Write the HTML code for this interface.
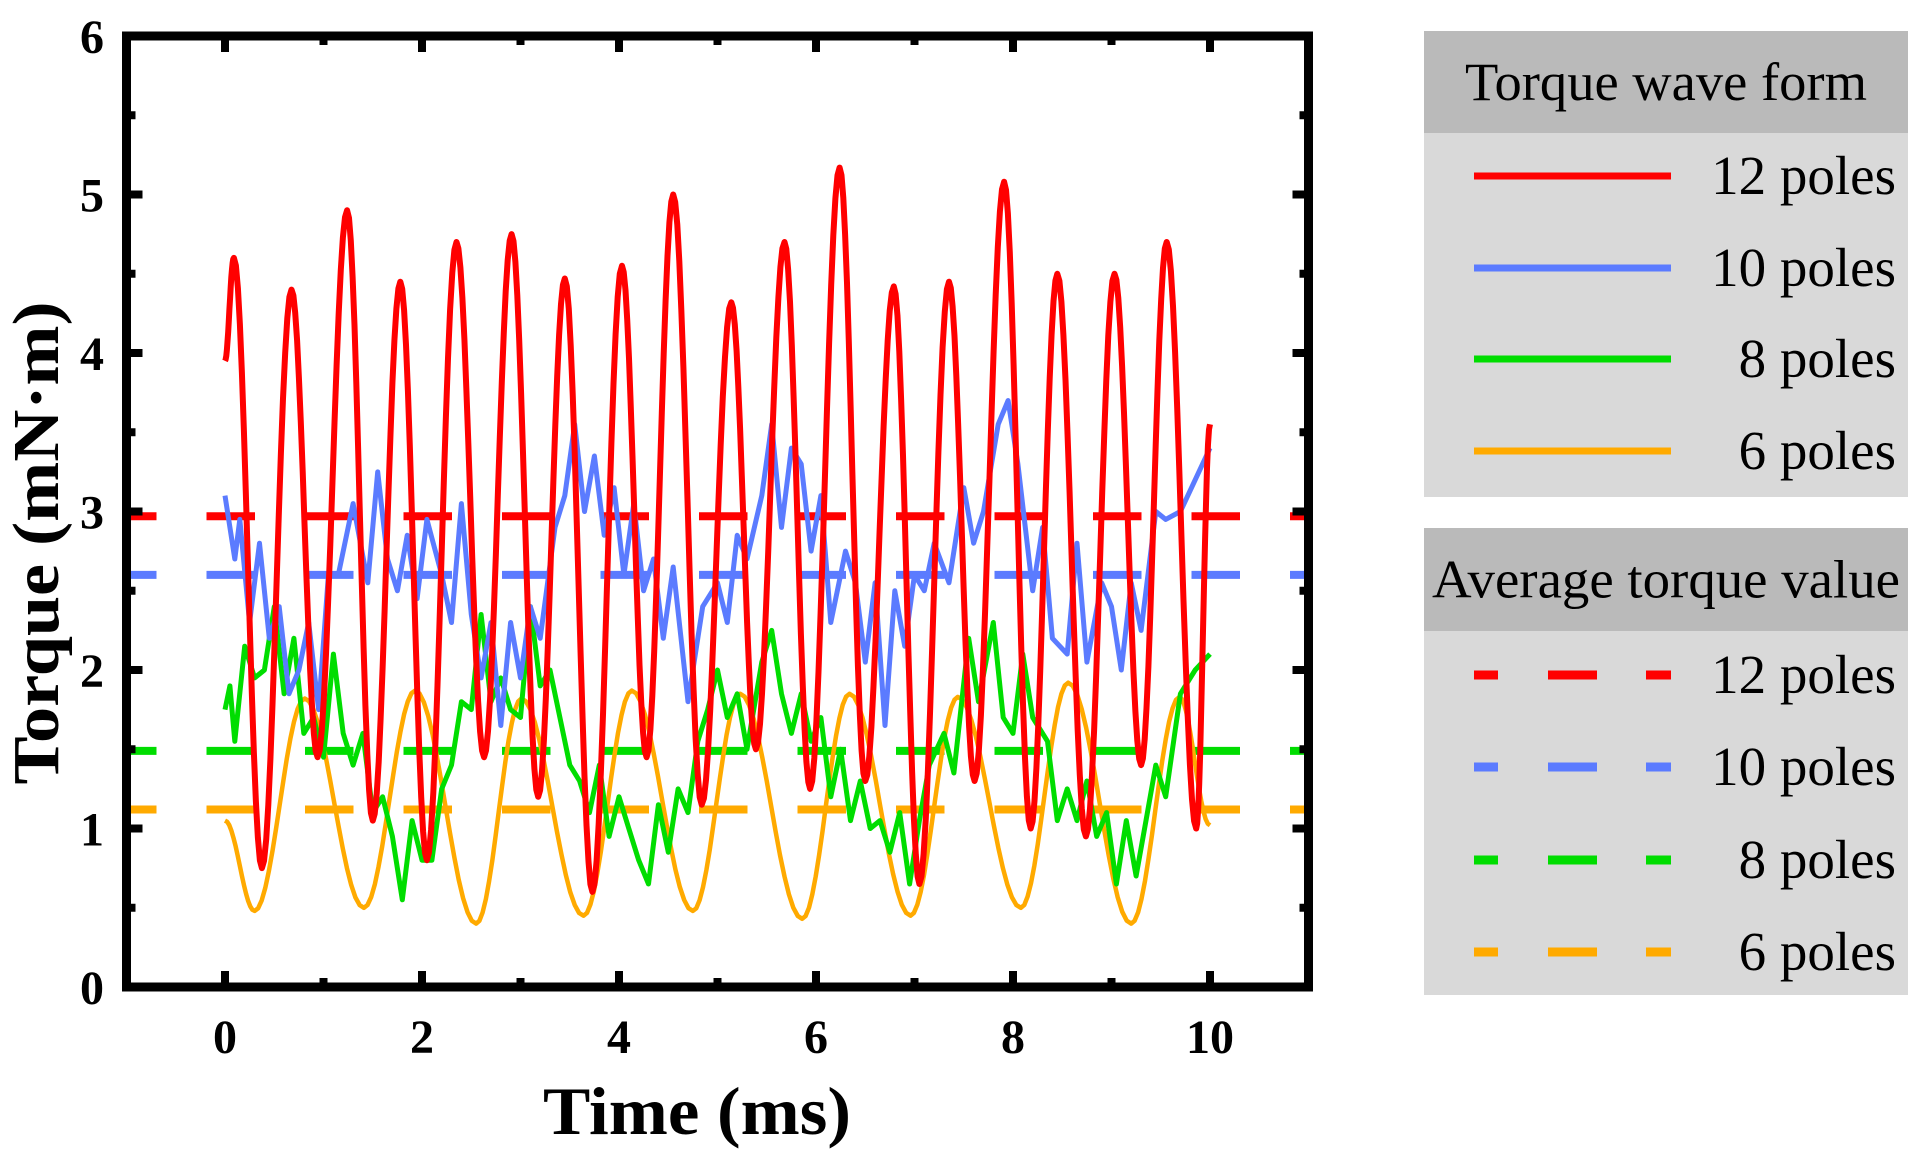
<!DOCTYPE html>
<html><head><meta charset="utf-8">
<style>
html,body{margin:0;padding:0;background:#fff;}
svg{display:block;}
text{font-family:"Liberation Serif","Times New Roman",serif;}
</style></head>
<body>
<svg id="chart" width="1924" height="1150" viewBox="0 0 1924 1150" xmlns="http://www.w3.org/2000/svg">
  <g id="plot"></g>
  <g id="axes"></g>
  <g id="legend"></g>
</svg>
<script>
// ---- data ----
const xTicks = [0, 2, 4, 6, 8, 10];
const yTicks = [0, 1, 2, 3, 4, 5, 6];
const seriesNames = ["12 poles", "10 poles", "8 poles", "6 poles"];
const seriesColors = ["#ff0000", "#5b7bff", "#00dd00", "#ffaa00"];
const averages = [2.97, 2.6, 1.49, 1.12];

const red12T = [0,0.09,0.375,0.675,0.94,1.24,1.5,1.78,2.05,2.35,2.63,2.91,3.18,3.45,3.73,4.03,4.28,4.55,4.84,5.14,5.39,5.68,5.94,6.24,6.5,6.79,7.05,7.35,7.61,7.91,8.18,8.45,8.74,9.03,9.3,9.56,9.86,10];
const red12V = [3.95,4.6,0.75,4.4,1.45,4.9,1.05,4.45,0.8,4.7,1.45,4.75,1.2,4.47,0.6,4.55,1.45,5.0,1.15,4.32,1.5,4.7,1.25,5.17,1.3,4.42,0.65,4.45,1.3,5.08,1.0,4.5,0.95,4.5,1.4,4.7,1.0,3.55];

const blue10T = [0,0.1,0.15,0.25,0.35,0.45,0.55,0.65,0.75,0.85,0.95,1.05,1.15,1.3,1.45,1.55,1.65,1.75,1.85,1.95,2.05,2.2,2.3,2.4,2.5,2.6,2.7,2.8,2.9,3.0,3.1,3.2,3.35,3.45,3.55,3.65,3.75,3.85,3.95,4.05,4.15,4.25,4.35,4.45,4.55,4.7,4.85,5.0,5.1,5.2,5.3,5.45,5.55,5.65,5.75,5.85,5.95,6.05,6.15,6.3,6.4,6.5,6.6,6.7,6.8,6.9,7.0,7.1,7.2,7.35,7.5,7.6,7.7,7.85,7.95,8.05,8.2,8.3,8.4,8.55,8.65,8.75,8.9,9.0,9.1,9.2,9.3,9.45,9.55,9.7,9.85,10];
const blue10V = [3.1,2.7,2.95,2.3,2.8,2.2,2.4,1.85,2.0,2.3,1.75,2.6,2.6,3.05,2.55,3.25,2.7,2.5,2.85,2.45,2.95,2.6,2.3,3.05,2.35,1.95,2.3,1.65,2.3,1.95,2.4,2.2,2.9,3.1,3.55,3.0,3.35,2.85,3.15,2.6,3.05,2.5,2.7,2.2,2.65,1.8,2.4,2.55,2.3,2.85,2.7,3.1,3.55,2.9,3.4,3.3,2.75,3.1,2.3,2.75,2.55,2.05,2.55,1.65,2.5,2.15,2.6,2.5,2.8,2.55,3.15,2.8,3.0,3.55,3.7,3.3,2.5,2.9,2.2,2.1,2.8,2.05,2.55,2.4,2.0,2.55,2.25,3.0,2.95,3.0,3.2,3.4];

const green8T = [0,0.05,0.1,0.2,0.3,0.4,0.5,0.6,0.7,0.8,0.9,1.0,1.1,1.2,1.3,1.4,1.5,1.6,1.7,1.8,1.9,2.0,2.1,2.2,2.3,2.4,2.5,2.6,2.7,2.8,2.9,3.0,3.1,3.2,3.3,3.4,3.5,3.6,3.7,3.8,3.9,4.0,4.1,4.2,4.3,4.4,4.5,4.6,4.7,4.8,4.9,5.0,5.1,5.2,5.3,5.45,5.55,5.65,5.75,5.85,5.95,6.05,6.15,6.25,6.35,6.45,6.55,6.65,6.75,6.85,6.95,7.05,7.15,7.3,7.4,7.55,7.65,7.8,7.9,8.0,8.1,8.2,8.35,8.45,8.55,8.65,8.75,8.85,8.95,9.05,9.15,9.25,9.35,9.45,9.55,9.7,9.85,10];
const green8V = [1.75,1.9,1.55,2.15,1.95,2.0,2.4,1.85,2.2,1.6,1.7,1.45,2.1,1.6,1.4,1.6,1.1,1.2,0.95,0.55,1.05,0.8,0.8,1.25,1.4,1.8,1.75,2.35,1.8,1.95,1.75,1.7,2.4,1.9,2.0,1.7,1.4,1.3,1.1,1.4,0.95,1.2,1.0,0.8,0.65,1.15,0.85,1.25,1.1,1.55,1.75,2.0,1.7,1.85,1.5,2.05,2.25,1.85,1.6,1.85,1.55,1.7,1.2,1.5,1.05,1.3,1.0,1.05,0.85,1.1,0.65,1.05,1.4,1.6,1.35,2.2,1.8,2.3,1.7,1.6,2.1,1.7,1.55,1.05,1.25,1.05,1.3,0.95,1.1,0.65,1.05,0.7,1.05,1.4,1.2,1.85,2.0,2.1];

const orange6T = [0,0.3,0.81,1.41,1.93,2.55,3.01,3.64,4.13,4.75,5.23,5.86,6.34,6.96,7.44,8.08,8.56,9.2,9.69,10];
const orange6V = [1.05,0.48,1.82,0.5,1.87,0.4,1.82,0.45,1.87,0.48,1.85,0.43,1.85,0.45,1.83,0.5,1.92,0.4,1.83,1.02];

// ---- scales ----
const X0 = 225, XS = 98.5, Y0 = 987, YS = 158.5;
function xs(t){ return X0 + t*XS; }
function ys(v){ return Y0 - v*YS; }
const NS = "http://www.w3.org/2000/svg";
function mk(tag, attrs, parent){
  const e = document.createElementNS(NS, tag);
  for (const k in attrs) e.setAttribute(k, attrs[k]);
  parent.appendChild(e); return e;
}
const plot = document.getElementById('plot');
const axes = document.getElementById('axes');
const legend = document.getElementById('legend');

const L = xs(-1), R = xs(11), T = ys(6), B = ys(0);
mk('clipPath', {id:'clip'}, plot);
mk('rect', {x:L, y:T, width:R-L, height:B-T}, document.getElementById('clip'));

averages.forEach((a,i)=>{
  const ln = mk('line', {x1:L, x2:R, y1:ys(a), y2:ys(a), stroke:seriesColors[i], 'stroke-width':8,
    'stroke-dasharray':'48.5 50', 'stroke-dashoffset':'18.5', 'clip-path':'url(#clip)'}, plot);
  
  
});

function linePath(T_, V_){
  return T_.map((t,i)=>(i?'L':'M')+xs(t).toFixed(1)+' '+ys(V_[i]).toFixed(1)).join(' ');
}
function smoothPath(T_, V_){
  let d = 'M'+xs(T_[0]).toFixed(1)+' '+ys(V_[0]).toFixed(1);
  for (let i=0;i<T_.length-1;i++){
    for (let k=1;k<=14;k++){
      const s=k/14, w=(1-Math.cos(Math.PI*s))/2;
      const t=T_[i]+(T_[i+1]-T_[i])*s, v=V_[i]+(V_[i+1]-V_[i])*w;
      d+=' L'+xs(t).toFixed(1)+' '+ys(v).toFixed(1);
    }
  }
  return d;
}
const p6 = mk('path', {d:smoothPath(orange6T, orange6V), fill:'none', stroke:seriesColors[3], 'stroke-width':4.5, 'stroke-linejoin':'round'}, plot);


const p8 = mk('path', {d:linePath(green8T, green8V), fill:'none', stroke:seriesColors[2], 'stroke-width':5, 'stroke-linejoin':'round'}, plot);


const p10 = mk('path', {d:linePath(blue10T, blue10V), fill:'none', stroke:seriesColors[1], 'stroke-width':5, 'stroke-linejoin':'round'}, plot);


const p12 = mk('path', {d:smoothPath(red12T, red12V), fill:'none', stroke:seriesColors[0], 'stroke-width':6, 'stroke-linejoin':'round'}, plot);



const fr = mk('rect', {x:L, y:T, width:R-L, height:B-T, fill:'none', stroke:'#000', 'stroke-width':9}, axes);



for (let t=-1;t<=11;t++){
  const len = (t%2===0) ? 16 : 9;
  mk('line', {x1:xs(t), x2:xs(t), y1:B, y2:B-len, stroke:'#000', 'stroke-width':8}, axes);
  mk('line', {x1:xs(t), x2:xs(t), y1:T, y2:T+len, stroke:'#000', 'stroke-width':8}, axes);
}
for (let k=0;k<=12;k++){
  const v=k/2, len=(k%2===0)?16:9;
  mk('line', {x1:L, x2:L+len, y1:ys(v), y2:ys(v), stroke:'#000', 'stroke-width':8}, axes);
  mk('line', {x1:R, x2:R-len, y1:ys(v), y2:ys(v), stroke:'#000', 'stroke-width':8}, axes);
}
xTicks.forEach(t=>{
  const tx = mk('text', {x:xs(t), y:1053, 'font-size':48, 'font-weight':'bold', 'text-anchor':'middle'}, axes);
  tx.textContent = t;
  
  
});
yTicks.forEach(v=>{
  const tx = mk('text', {x:92, y:ys(v)+17, 'font-size':48, 'font-weight':'bold', 'text-anchor':'middle'}, axes);
  tx.textContent = v;
  
  
});
const xt = mk('text', {x:697, y:1134, 'font-size':68, 'font-weight':'bold', 'text-anchor':'middle', textLength:308, lengthAdjust:'spacingAndGlyphs'}, axes);
xt.textContent = 'Time (ms)';


const yt = mk('text', {x:0, y:0, 'font-size':66, 'font-weight':'bold', 'text-anchor':'middle', textLength:483, lengthAdjust:'spacingAndGlyphs', transform:'translate(58,543) rotate(-90)'}, axes);
yt.textContent = 'Torque (mN·m)';



function legendBox(y0, y1, hdrBottom, title, titleLen, rowsY, dashed, name){
  const g = mk('g', {}, legend);
  
  
  mk('rect', {x:1424, y:y0, width:484, height:y1-y0, fill:'#d9d9d9'}, g);
  mk('rect', {x:1424, y:y0, width:484, height:hdrBottom-y0, fill:'#bababa'}, g);
  const h = mk('text', {x:1666, y:(y0+hdrBottom)/2+18, 'font-size':54, 'text-anchor':'middle', textLength:titleLen, lengthAdjust:'spacingAndGlyphs'}, g);
  h.textContent = title;
  
  
  seriesNames.forEach((nm,i)=>{
    const y = rowsY[i];
    if (dashed){
      mk('line', {x1:1474, x2:1498, y1:y, y2:y, stroke:seriesColors[i], 'stroke-width':9}, g);
      mk('line', {x1:1548, x2:1597, y1:y, y2:y, stroke:seriesColors[i], 'stroke-width':9}, g);
      mk('line', {x1:1646, x2:1671, y1:y, y2:y, stroke:seriesColors[i], 'stroke-width':9}, g);
    } else {
      mk('line', {x1:1474, x2:1671, y1:y, y2:y, stroke:seriesColors[i], 'stroke-width':7}, g);
    }
    const tx = mk('text', {x:1896, y:y+18, 'font-size':55, 'text-anchor':'end'}, g);
    tx.textContent = nm;
    
    
  });
}
legendBox(31, 497, 133, 'Torque wave form', 402, [176,268,359,451], false, 'legend-waveform');
legendBox(528, 995, 631, 'Average torque value', 468, [675,767,860,952], true, 'legend-average');
</script>
</body></html>
